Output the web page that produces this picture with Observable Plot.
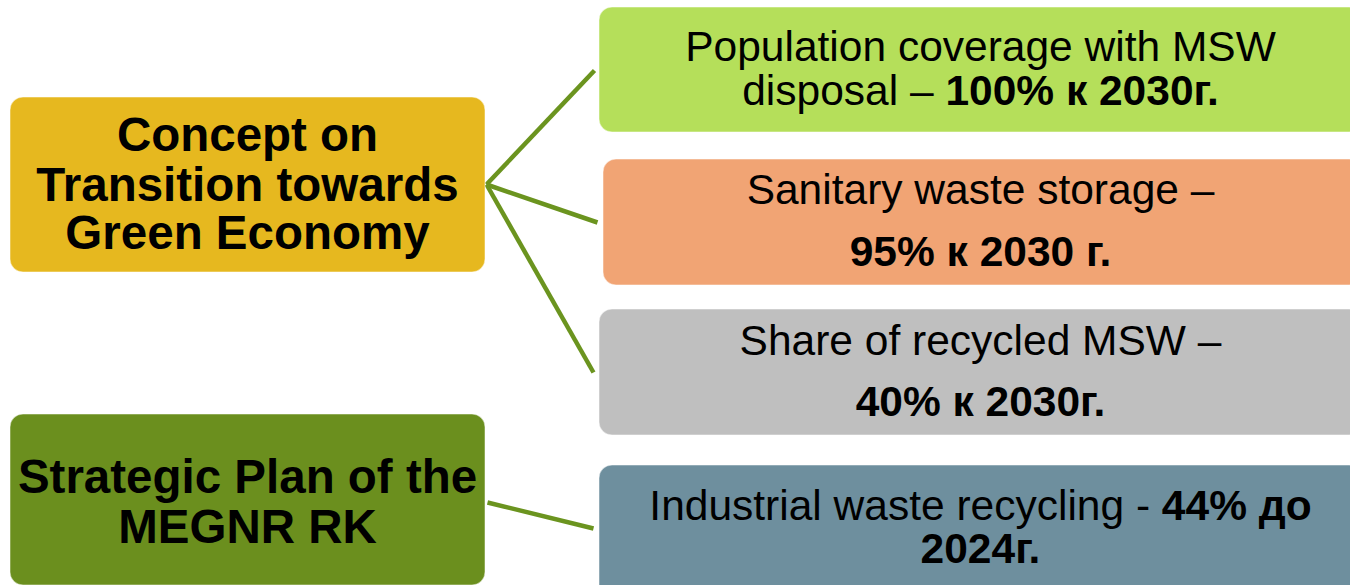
<!DOCTYPE html>
<html>
<head>
<meta charset="utf-8">
<script src="https://cdn.jsdelivr.net/npm/d3@7"></script>
<script src="https://cdn.jsdelivr.net/npm/@observablehq/plot@0.6"></script>
<style>
  html, body { margin: 0; padding: 0; background: #ffffff; overflow: hidden; }
  #chart svg { display: block; }
</style>
</head>
<body>
<div id="chart"></div>
<script>
// ---------- DATA ----------
const sources = ["Concept on Transition towards Green Economy", "Strategic Plan of the MEGNR RK"];
const sourceLines = [
  ["Concept on", "Transition towards", "Green Economy"],
  ["Strategic Plan of the", "MEGNR RK"]
];
const targets = ["Population coverage with MSW disposal", "Sanitary waste storage", "Share of recycled MSW", "Industrial waste recycling"];
const goals = ["100% к 2030г.", "95% к 2030 г.", "40% к 2030г.", "44% до 2024г."];
// each line: list of [text, isBold] segments
const targetLines = [
  [[["Population coverage with MSW", false]], [["disposal – ", false], ["100% к 2030г.", true]]],
  [[["Sanitary waste storage –", false]], [["95% к 2030 г.", true]]],
  [[["Share of recycled MSW –", false]], [["40% к 2030г.", true]]],
  [[["Industrial waste recycling - ", false], ["44% до", true]], [["2024г.", true]]]
];
const linkSource = [0, 0, 0, 1];

// ---------- LAYOUT & STYLE ----------
const W = 1350, H = 585;
const FONT = "'Liberation Sans', Arial, Helvetica, sans-serif";
const srcColors = ["#e6b81f", "#6b8f1e"];
const tgtColors = ["#b5df5a", "#f1a474", "#bfbfbf", "#6e8f9e"];
const srcBox = [{x1: 10, x2: 485, y1: 97, y2: 272}, {x1: 10, x2: 485, y1: 414, y2: 585}];
const srcBaselines = [[150, 200, 248], [492, 542]];
const srcCenterX = 247;
const tgtBox = [{x1: 599, y1: 7, y2: 132}, {x1: 603, y1: 159, y2: 285}, {x1: 599, y1: 309, y2: 435}, {x1: 599, y1: 465, y2: 600}];
const tgtX2 = 1362;
const tgtBaselines = [[60, 104], [203, 265], [354, 415], [519, 562]];
const tgtCenterX = 980;
const fromPts = [[486, 184], [487, 502]];
const toPts = [[594, 70], [597, 222], [593, 372], [593, 528]];
const SRC_SIZE = 47.5, TGT_SIZE = 42.5;

// ---------- BUILD TABLES ----------
const boxes = [
  ...sources.map((s, i) => ({name: s, ...srcBox[i], fill: srcColors[i]})),
  ...targets.map((t, i) => ({name: t, ...tgtBox[i], x2: tgtX2, fill: tgtColors[i]}))
];

const links = targets.map((t, i) => ({
  source: sources[linkSource[i]], target: t,
  x1: fromPts[linkSource[i]][0], y1: fromPts[linkSource[i]][1],
  x2: toPts[i][0], y2: toPts[i][1]
}));

const srcText = [];
sourceLines.forEach((lines, i) => lines.forEach((l, j) => srcText.push({text: l, x: srcCenterX, y: srcBaselines[i][j]})));

const ctx = document.createElement("canvas").getContext("2d");
function measure(text, bold) {
  ctx.font = `${bold ? "bold " : ""}${TGT_SIZE}px ${FONT}`;
  return ctx.measureText(text).width;
}
const tgtSegs = [];
targetLines.forEach((lines, i) => lines.forEach((segs, j) => {
  const widths = segs.map(([t, b]) => measure(t, b));
  const total = d3.sum(widths);
  let x = tgtCenterX - total / 2;
  segs.forEach(([t, b], k) => {
    tgtSegs.push({text: t, bold: b, x, y: tgtBaselines[i][j], target: targets[i], goal: goals[i]});
    x += widths[k];
  });
}));

// ---------- PLOT ----------
const chart = Plot.plot({
  width: W, height: H,
  margin: 0,
  x: {domain: [0, W], range: [0, W], axis: null},
  y: {domain: [0, H], range: [0, H], axis: null},
  color: {type: "identity"},
  style: {fontFamily: FONT, background: "#ffffff", overflow: "hidden"},
  marks: [
    Plot.link(links, {x1: "x1", y1: "y1", x2: "x2", y2: "y2", stroke: "#6b941f", strokeWidth: 4.5}),
    Plot.rect(boxes, {x1: "x1", x2: "x2", y1: "y1", y2: "y2", fill: "fill", rx: 13, ry: 13,
      stroke: "#ffffff", strokeOpacity: 0.5, strokeWidth: 1, clip: true}),
    Plot.text(srcText, {x: "x", y: "y", text: "text", lineAnchor: "bottom", textAnchor: "middle",
      fontSize: SRC_SIZE, fontWeight: "bold", fill: "#000000", fontFamily: FONT}),
    Plot.text(tgtSegs.filter(d => !d.bold), {x: "x", y: "y", text: "text", lineAnchor: "bottom", textAnchor: "start",
      fontSize: TGT_SIZE, fill: "#000000", fontFamily: FONT}),
    Plot.text(tgtSegs.filter(d => d.bold), {x: "x", y: "y", text: "text", lineAnchor: "bottom", textAnchor: "start",
      fontSize: TGT_SIZE, fontWeight: "bold", fill: "#000000", fontFamily: FONT})
  ]
});
document.getElementById("chart").appendChild(chart);
</script>
</body>
</html>
